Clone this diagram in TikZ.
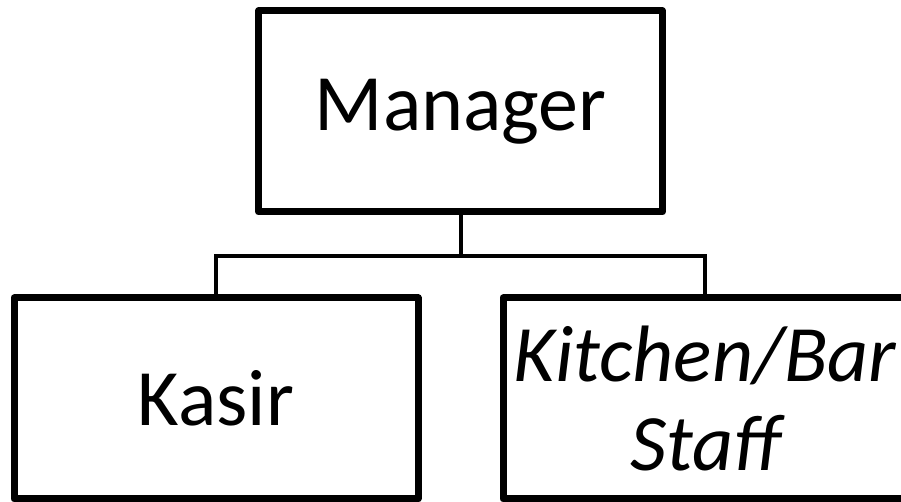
\documentclass[tikz,border=0pt]{standalone}
\usepackage{fontspec}
\setmainfont{Carlito}
\usetikzlibrary{shadows}

\begin{document}
\begin{tikzpicture}[x=0.5pt, y=-0.5pt, main node/.style={rectangle,draw,fill=white,line width=3.5pt,line join=round,inner sep=0pt,minimum width=202pt,minimum height=100.5pt,align=center,font=\fontsize{40}{44.5}\selectfont,drop shadow={shadow xshift=0.8pt,shadow yshift=-0.8pt,opacity=0.3}}, link/.style={line width=2pt}]

					\useasboundingbox (0,0) rectangle (901,502);
					\clip (0,0) rectangle (901,502);

					\node[main node] at (460.5, 111.5) (mgr) {Manager};
					\node[main node] at (216, 398.5) (kasir) {Kasir};
					\node[main node] at (705, 398.5) (staff) {\itshape Kitchen/Bar\\\itshape Staff};

					\coordinate (split) at (460.5, 256);
					\draw[link] (mgr.south) -- (split);
					\draw[link] (split) -| (kasir.north);
					\draw[link] (split) -| (staff.north);
                \end{tikzpicture}
\end{document}
